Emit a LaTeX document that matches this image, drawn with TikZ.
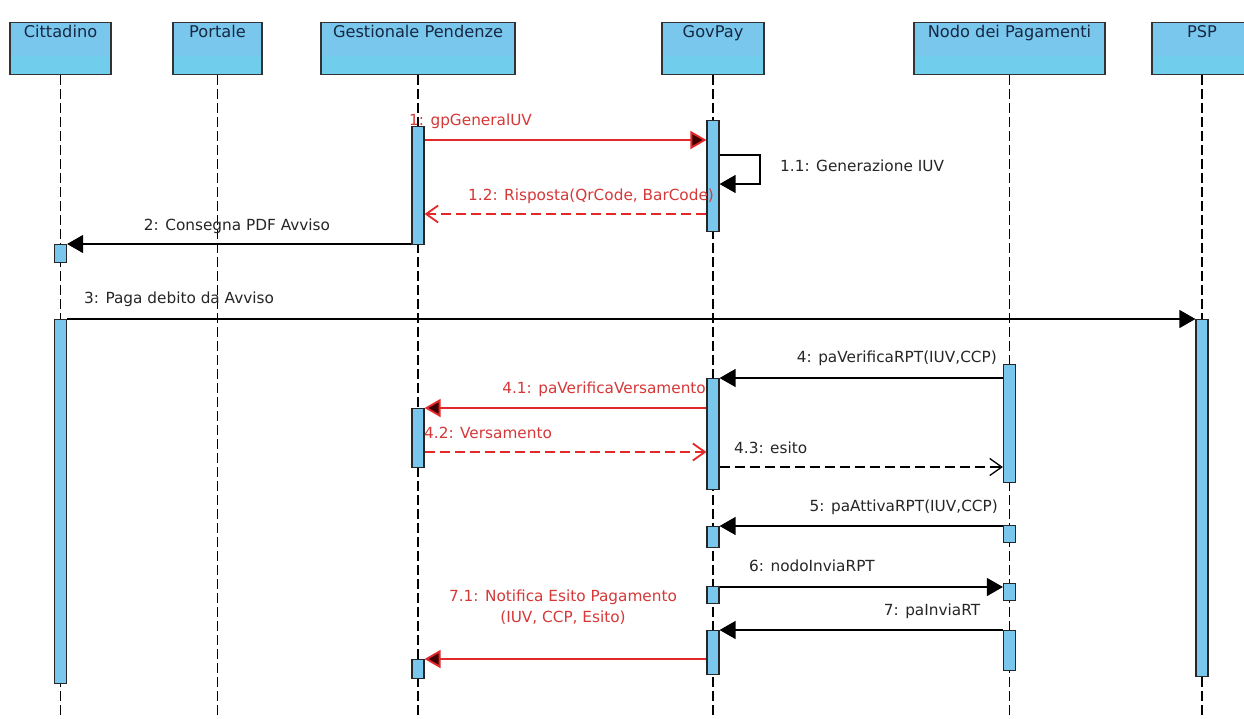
\documentclass[tikz,border=0pt]{standalone}
\usepackage{fontspec}
\setmainfont{DejaVu Sans}
\usetikzlibrary{arrows.meta,calc}
\definecolor{lifeblue}{RGB}{122,199,238}
\definecolor{lifecyan}{RGB}{112,205,236}
\definecolor{msgred}{RGB}{226,40,40}
\definecolor{txtred}{RGB}{214,56,56}
\definecolor{txtgray}{RGB}{38,38,38}
\definecolor{hdrtxt}{RGB}{22,40,66}
\tikzset{
	hdr/.style={draw=black!80, fill=lifeblue, line width=1.3pt, inner sep=0pt, anchor=north,
		text height=15pt, text depth=37pt, font=\fontsize{16.2}{18}\selectfont, text=hdrtxt,
		path picture={\fill[lifecyan] ($(path picture bounding box.west)!0.3!(path picture bounding box.south west)$)
			rectangle (path picture bounding box.south east);}},
	life/.style={line width=1.1pt, dash pattern=on 10pt off 4pt},
	bar/.style={draw=black!85, fill=lifeblue, line width=1.2pt, minimum width=12pt, inner sep=0pt, anchor=north},
	lbl/.style={inner sep=0pt, font=\fontsize{15.3}{21}\selectfont, text=txtgray},
	rlbl/.style={lbl, text=txtred},
	call/.style={line width=1.3pt, -{Triangle[length=16pt,width=18pt]}},
	rcall/.style={call, line width=1.9pt, draw=msgred, -{Triangle[length=16pt,width=18pt,fill=black!75!red]}},
	reply/.style={line width=1.3pt, dash pattern=on 10pt off 5pt, -{Straight Barb[length=12pt,width=17pt]}},
	rreply/.style={reply, line width=1.8pt, draw=msgred},
}

\begin{document}
\begin{tikzpicture}[x=1pt, y=-1pt]
			%%%%% START %%%%%
			
			\useasboundingbox[fill=white] (0,0) rectangle (1244,718);
			\coordinate (bot) at (0,718);
			
			\node[hdr, minimum width=101pt] (cit) at (60.5,22) {Cittadino};
			\node[hdr, minimum width=89pt] (por) at (217.5,22) {Portale};
			\node[hdr, minimum width=194pt] (ges) at (418,22) {Gestionale Pendenze};
			\node[hdr, minimum width=102pt] (gov) at (713,22) {GovPay};
			\node[hdr, minimum width=191pt] (nod) at (1009.5,22) {Nodo dei Pagamenti};
			\node[hdr, minimum width=100pt] (psp) at (1202,22) {PSP};
			
			\draw[life] (cit.south) -- (cit.south |- bot);
			\draw[life] (por.south) -- (por.south |- bot);
			\draw[life] (ges.south) -- (ges.south |- bot);
			\draw[life] (gov.south) -- (gov.south |- bot);
			\draw[life] (nod.south) -- (nod.south |- bot);
			\draw[life] (psp.south) -- (psp.south |- bot);
			
			% activation bars
			\node[bar, minimum height=118pt] (actG1) at (418,126) {};
			\node[bar, minimum height=111pt] (actV1) at (713,120) {};
			\node[bar, minimum height=18pt] (actC1) at (60.5,244) {};
			\node[bar, minimum height=364pt] (actC2) at (60.5,319) {};
			\node[bar, minimum height=357pt] (actP1) at (1202,319) {};
			\node[bar, minimum height=118pt] (actN1) at (1009.5,364) {};
			\node[bar, minimum height=111pt] (actV2) at (713,378) {};
			\node[bar, minimum height=59pt] (actG2) at (418,408) {};
			\node[bar, minimum height=21pt] (actV3) at (713,526) {};
			\node[bar, minimum height=17pt] (actN2) at (1009.5,525) {};
			\node[bar, minimum height=17pt] (actV4) at (713,586) {};
			\node[bar, minimum height=17pt] (actN3) at (1009.5,583) {};
			\node[bar, minimum height=44pt] (actV5) at (713,630) {};
			\node[bar, minimum height=40pt] (actN4) at (1009.5,630) {};
			\node[bar, minimum height=19pt] (actG3) at (418,659) {};
			
			% message levels
			\coordinate (y1) at (0,140);
			\coordinate (y11a) at (0,155);
			\coordinate (y11b) at (0,184);
			\coordinate (y12) at (0,214);
			\coordinate (y2) at (0,244);
			\coordinate (y3) at (0,319);
			\coordinate (y4) at (0,378);
			\coordinate (y41) at (0,408);
			\coordinate (y42) at (0,452);
			\coordinate (y43) at (0,467);
			\coordinate (y5) at (0,526);
			\coordinate (y6) at (0,587);
			\coordinate (y7) at (0,630);
			\coordinate (y71) at (0,659);
			\coordinate (self) at (760,0);
			
			\draw[rcall] (actG1.east |- y1) -- (actV1.west |- y1);
			\draw[call] (actV1.east |- y11a) -- (self |- y11a) -- (self |- y11b) -- (actV1.east |- y11b);
			\draw[rreply] (actV1.west |- y12) -- (actG1.east |- y12);
			\draw[call] (actG1.west |- y2) -- (actC1.east |- y2);
			\draw[call] (actC2.east |- y3) -- (actP1.west |- y3);
			\draw[call] (actN1.west |- y4) -- (actV2.east |- y4);
			\draw[rcall] (actV2.west |- y41) -- (actG2.east |- y41);
			\draw[rreply] (actG2.east |- y42) -- (actV2.west |- y42);
			\draw[reply] (actV2.east |- y43) -- (actN1.west |- y43);
			\draw[call] (actN2.west |- y5) -- (actV3.east |- y5);
			\draw[call] (actV4.east |- y6) -- (actN3.west |- y6);
			\draw[call] (actN4.west |- y7) -- (actV5.east |- y7);
			\draw[rcall] (actV5.west |- y71) -- (actG3.east |- y71);
			
			% labels
			\node[rlbl, anchor=west] (l1) at (409,121) {1: gpGeneralUV};
			\node[lbl, anchor=west] (l11) at (780,166) {1.1: Generazione IUV};
			\node[rlbl, anchor=west] (l12) at (468,196) {1.2: Risposta(QrCode, BarCode)};
			\node[lbl] (l2) at (237,226) {2: Consegna PDF Avviso};
			\node[lbl, anchor=west] (l3) at (84,299) {3: Paga debito da Avviso};
			\node[lbl, anchor=east] (l4) at (997,358) {4: paVerificaRPT(IUV,CCP)};
			\node[rlbl, anchor=east] (l41) at (706,389) {4.1: paVerificaVersamento};
			\node[rlbl, anchor=west] (l42) at (424,433) {4.2: Versamento};
			\node[lbl, anchor=west] (l43) at (734,448) {4.3: esito};
			\node[lbl, anchor=east] (l5) at (998,507) {5: paAttivaRPT(IUV,CCP)};
			\node[lbl, anchor=west] (l6) at (749,566) {6: nodoInviaRPT};
			\node[lbl] (l7) at (932,611) {7: paInviaRT};
			\node[rlbl, align=center] (l71) at (563,607) {7.1: Notifica Esito Pagamento\\(IUV, CCP, Esito)};
			
			%%%%% END %%%%%
\end{tikzpicture}
\end{document}
